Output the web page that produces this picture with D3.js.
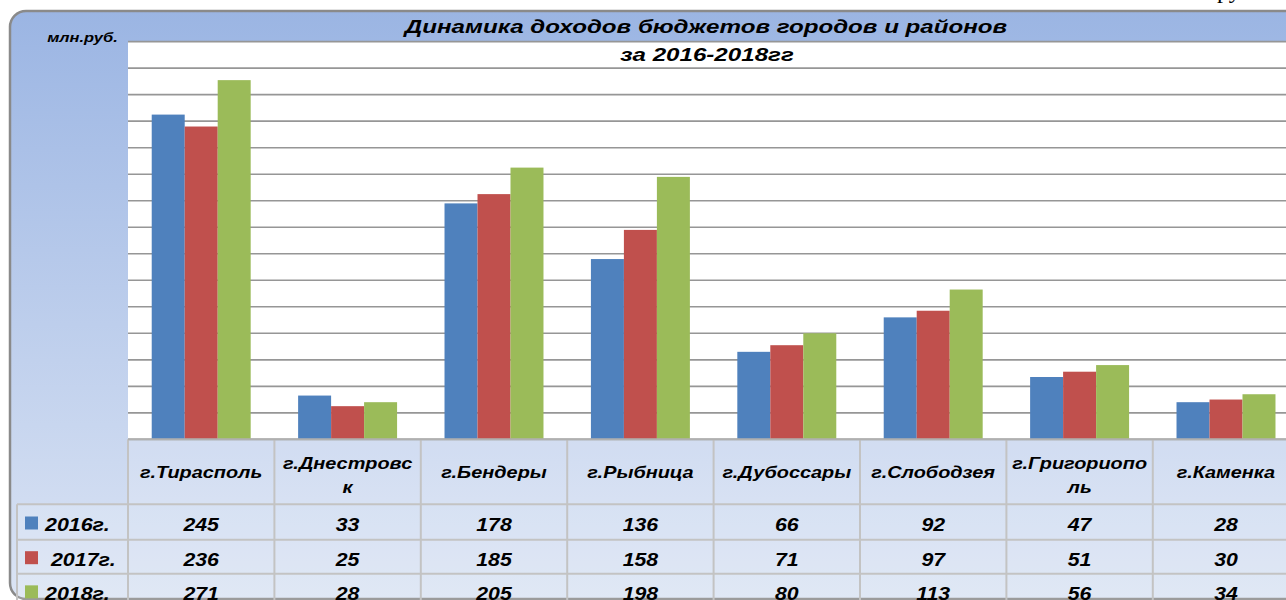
<!DOCTYPE html>
<html>
<head>
<meta charset="utf-8">
<script src="https://cdn.jsdelivr.net/npm/d3@7"></script>
<style>
  body { margin: 0; background: #fff; overflow: hidden; }
  svg { display: block; }
  text { font-family: "Liberation Sans", Arial, sans-serif; font-weight: bold; font-style: italic; fill: #000; }
</style>
</head>
<body>
<div id="chart"></div>
<script>
// доходы бюджетов городов и районов, млн.руб.
var cities = ["г.Тирасполь", "г.Днестровск", "г.Бендеры", "г.Рыбница", "г.Дубоссары", "г.Слободзея", "г.Григориополь", "г.Каменка"]
// how the long names are broken in the table header
var cityLines = [["г.Тирасполь"], ["г.Днестровс", "к"], ["г.Бендеры"], ["г.Рыбница"], ["г.Дубоссары"], ["г.Слободзея"], ["г.Григориопо", "ль"], ["г.Каменка"]]
var years = ["2016г.", "2017г.", "2018г."]
var legendLabels = ["2016г.", " 2017г.", "2018г."]
var v2016 = [245, 33, 178, 136, 66, 92, 47, 28]
var v2017 = [236, 25, 185, 158, 71, 97, 51, 30]
var v2018 = [271, 28, 205, 198, 80, 113, 56, 34]
var colors = ["#4f81bd", "#c0504d", "#9bbb59"]

var series = [v2016, v2017, v2018]

var width = 1286
var height = 600

var plot = { left: 128, right: 1299.2, top: 41.7, bottom: 439.3 }
var rowY = [439.3, 504.3, 539.7, 573.7, 608]

var svg = d3.select("#chart")
    .append("svg")
    .attr("width", width)
    .attr("height", height);

var defs = svg.append("defs")
var grad = defs.append("linearGradient")
    .attr("id", "bg")
    .attr("gradientUnits", "userSpaceOnUse")
    .attr("x1", 0).attr("y1", 11).attr("x2", 0).attr("y2", 600)
grad.append("stop").attr("offset", 0).attr("stop-color", "#9bb5e3")
grad.append("stop").attr("offset", 1).attr("stop-color", "#dbe4f4")

// the "ру" that peeks in from the page above
svg.append("text")
    .attr("x", 1217).attr("y", -2)
    .style("font-family", "'Liberation Serif', serif")
    .style("font-style", "normal")
    .style("font-weight", "normal")
    .attr("font-size", 24)
    .text("ру")

// outer frame
svg.append("rect")
    .attr("x", 10).attr("y", 11)
    .attr("width", 1300).attr("height", 588)
    .attr("rx", 16)
    .attr("fill", "url(#bg)")
    .attr("stroke", "#8a8a8a")
    .attr("stroke-width", 2.5)

// scales
var x = d3.scaleBand()
    .domain(cities)
    .range([plot.left, plot.right])

var groupW = x.bandwidth() * 0.676
var x1 = d3.scaleBand()
    .domain(years)
    .range([(x.bandwidth() - groupW) / 2, (x.bandwidth() + groupW) / 2])

var y = d3.scaleLinear()
    .domain([0, 300])
    .range([plot.bottom, plot.top])

// plot area
svg.append("rect")
    .attr("x", plot.left).attr("y", plot.top)
    .attr("width", plot.right - plot.left).attr("height", plot.bottom - plot.top)
    .attr("fill", "#fff")

svg.append("g")
    .selectAll("line")
    .data(y.ticks(15))
    .join("line")
    .attr("x1", plot.left).attr("x2", plot.right)
    .attr("y1", d => y(d)).attr("y2", d => y(d))
    .attr("stroke", "#969696")
    .attr("stroke-width", 1.7)

// bars
svg.append("g")
    .selectAll("g")
    .data(series)
    .join("g")
    .attr("fill", (d, i) => colors[i])
    .selectAll("rect")
    .data((d, i) => d.map((v, j) => ({ city: cities[j], year: years[i], v: v })))
    .join("rect")
    .attr("x", d => x(d.city) + x1(d.year))
    .attr("width", x1.bandwidth())
    .attr("y", d => y(d.v))
    .attr("height", d => y(0) - y(d.v))

// titles
function stretched(g, tx, ty, sx, size, str) {
    return g.append("text")
        .attr("transform", `translate(${tx},${ty}) scale(${sx},1)`)
        .attr("text-anchor", "middle")
        .attr("font-size", size)
        .text(str)
}
stretched(svg, 706, 33, 1.38, 17.5, "Динамика доходов бюджетов городов и районов")
stretched(svg, 707, 61, 1.38, 17.5, "за 2016-2018гг")
stretched(svg, 82.5, 42, 1.22, 13.5, "млн.руб.")

// data table
var table = svg.append("g")

table.append("rect")
    .attr("x", plot.left).attr("y", rowY[0])
    .attr("width", plot.right - plot.left).attr("height", rowY[4] - rowY[0])
    .attr("fill", "#fff").attr("fill-opacity", 0.15)
table.append("rect")
    .attr("x", 17).attr("y", rowY[1])
    .attr("width", plot.left - 17).attr("height", rowY[4] - rowY[1])
    .attr("fill", "#fff").attr("fill-opacity", 0.15)

var gridColor = "#c3c3c3"
table.selectAll(".vl")
    .data(cities.concat(["end"]))
    .join("line")
    .attr("x1", (d, i) => plot.left + i * x.bandwidth())
    .attr("x2", (d, i) => plot.left + i * x.bandwidth())
    .attr("y1", rowY[0]).attr("y2", rowY[4])
    .attr("stroke", gridColor).attr("stroke-width", 2)
table.selectAll(".hl")
    .data(rowY.slice(1, 4))
    .join("line")
    .attr("x1", 17).attr("x2", plot.right)
    .attr("y1", d => d).attr("y2", d => d)
    .attr("stroke", gridColor).attr("stroke-width", 2)
table.append("line")
    .attr("x1", 17).attr("x2", 17)
    .attr("y1", rowY[1]).attr("y2", rowY[4])
    .attr("stroke", gridColor).attr("stroke-width", 2)
table.append("line")
    .attr("x1", plot.left).attr("x2", plot.right)
    .attr("y1", rowY[0]).attr("y2", rowY[0])
    .attr("stroke", "#b0b0b0").attr("stroke-width", 2)

// header labels
cityLines.forEach(function (lines, i) {
    var cx = x(cities[i]) + x.bandwidth() / 2
    var y0 = lines.length == 1 ? 477.5 : 469
    lines.forEach(function (s, k) {
        stretched(table, cx, y0 + k * 24, 1.17, 17, s)
    })
})

// values and legend
series.forEach(function (vals, r) {
    var cy = (rowY[r + 1] + rowY[r + 2]) / 2
    table.append("rect")
        .attr("x", 25).attr("y", cy - 5.5)
        .attr("width", 13).attr("height", 13)
        .attr("fill", colors[r])
    table.append("text")
        .attr("transform", `translate(45,${cy + 9}) scale(1.19,1)`)
        .attr("font-size", 18)
        .attr("xml:space", "preserve")
        .text(legendLabels[r])
    vals.forEach(function (v, j) {
        stretched(table, x(cities[j]) + x.bandwidth() / 2, cy + 9, 1.15, 18.5, v)
    })
})
</script>
</body>
</html>
